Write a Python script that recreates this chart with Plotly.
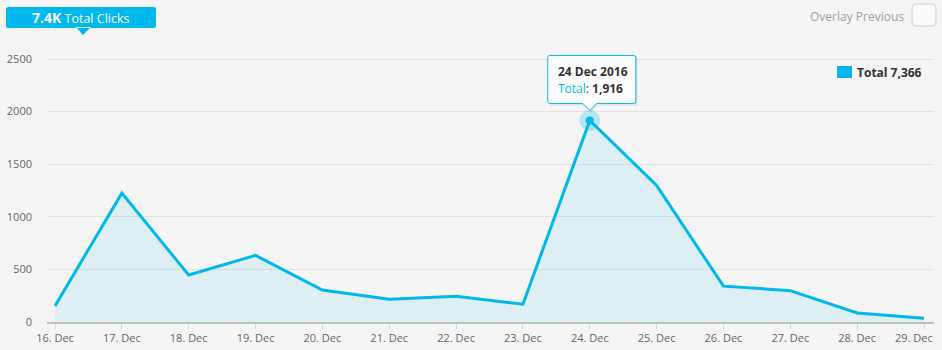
import plotly.graph_objects as go
import pandas as pd

# ---- data ----
dates = ["2016-12-16", "2016-12-17", "2016-12-18", "2016-12-19", "2016-12-20",
         "2016-12-21", "2016-12-22", "2016-12-23", "2016-12-24", "2016-12-25",
         "2016-12-26", "2016-12-27", "2016-12-28", "2016-12-29"]
clicks = [152, 1225, 447, 633, 304, 216, 245, 169, 1916, 1298, 341, 298, 86, 36]
series_name = "Total"
y_ticks = [0, 500, 1000, 1500, 2000, 2500]
highlight_index = 8

CYAN = "#00b9ec"
FONT = "Open Sans"

total = sum(clicks)
d = pd.to_datetime(dates)
x_range = [d[0] - pd.Timedelta(days=0.1197), d[-1] + pd.Timedelta(days=0.1496)]
hx = dates[highlight_index]
hy = clicks[highlight_index]

M_T, M_B = 50, 28
plot_h = 350 - M_T - M_B
y_top = y_ticks[-1] * plot_h / (plot_h - 9)   # 2500 gridline sits 9px below the plot top

fig = go.Figure()
fig.add_trace(go.Scatter(
    x=dates, y=clicks, mode="lines", name=series_name,
    line=dict(color=CYAN, width=3), fill="tozeroy",
    fillcolor="rgba(53,187,245,0.12)", hoverinfo="skip", showlegend=False))
# highlight halo + dot
fig.add_trace(go.Scatter(
    x=[hx], y=[hy], mode="markers", showlegend=False, hoverinfo="skip",
    marker=dict(size=21, color="rgba(0,185,236,0.25)", line=dict(width=0))))
fig.add_trace(go.Scatter(
    x=[hx], y=[hy], mode="markers", showlegend=False, hoverinfo="skip",
    marker=dict(size=8, color=CYAN, line=dict(width=0))))

shapes = []
# tooltip shadow + box with pointer (pixel offsets from the highlighted point)
box_path = "M -40,65 L 44,65 Q 46,65 46,63 L 46,19 Q 46,17 44,17 L 7,17 L 0,10 L -7,17 " \
           "L -40,17 Q -42,17 -42,19 L -42,63 Q -42,65 -40,65 Z"
shadow_path = "M -40,64 L 48,64 L 48,15 L 8,15 L 1,8 L -6,15 L -40,15 Z"
shapes.append(dict(type="path", xref="x", yref="y", xsizemode="pixel", ysizemode="pixel",
                   xanchor=hx, yanchor=hy, path=shadow_path,
                   fillcolor="rgba(0,0,0,0.07)", line=dict(width=0), layer="above"))
shapes.append(dict(type="path", xref="x", yref="y", xsizemode="pixel", ysizemode="pixel",
                   xanchor=hx, yanchor=hy, path=box_path,
                   fillcolor="rgba(255,255,255,0.97)", line=dict(color=CYAN, width=1), layer="above"))
# top-left badge with pointer
shapes.append(dict(type="path", xref="paper", yref="paper", xsizemode="pixel", ysizemode="pixel",
                   xanchor=0, yanchor=1,
                   path="M -39,43 Q -41,43 -41,41 L -41,24 Q -41,22 -39,22 L 107,22 Q 109,22 109,24 "
                        "L 109,41 Q 109,43 107,43 Z M 29,23 L 44,23 L 36,15 Z",
                   fillcolor=CYAN, line=dict(width=0), layer="above"))
# checkbox
shapes.append(dict(type="path", xref="paper", yref="paper", xsizemode="pixel", ysizemode="pixel",
                   xanchor=1, yanchor=1,
                   path="M -18,46 L -2,46 Q 2,46 2,42 L 2,28 Q 2,24 -2,24 L -18,24 Q -22,24 -22,28 "
                        "L -22,42 Q -22,46 -18,46 Z",
                   fillcolor="#fbfbfb", line=dict(color="#cfcfcf", width=1), layer="above"))
# legend swatch
shapes.append(dict(type="rect", xref="paper", yref="paper", xsizemode="pixel", ysizemode="pixel",
                   xanchor=1, yanchor=1, x0=-97, x1=-82, y0=-16, y1=-28,
                   fillcolor=CYAN, line=dict(width=0), layer="above"))

annotations = [
    dict(x=hx, y=hy, xref="x", yref="y", xanchor="left", yanchor="middle",
         xshift=-34, yshift=49, showarrow=False,
         text="<b>24 Dec 2016</b>", font=dict(family=FONT, size=12, color="#333333")),
    dict(x=hx, y=hy, xref="x", yref="y", xanchor="left", yanchor="middle",
         xshift=-34, yshift=32, showarrow=False,
         text=f"<span style='color:{CYAN}'>{series_name}</span>: <b>{hy:,}</b>",
         font=dict(family=FONT, size=12, color="#333333")),
    dict(x=0, y=1, xref="paper", yref="paper", xanchor="center", yanchor="middle",
         xshift=34, yshift=33, showarrow=False,
         text=f"<span style='font-size:14px'><b>{total/1000:.1f}K</b></span> Total Clicks",
         font=dict(family=FONT, size=12.5, color="white")),
    dict(x=1, y=1, xref="paper", yref="paper", xanchor="right", yanchor="middle",
         xshift=-28, yshift=34, showarrow=False,
         text="Overlay Previous", font=dict(family=FONT, size=12, color="#a0a0a0")),
    dict(x=1, y=1, xref="paper", yref="paper", xanchor="left", yanchor="middle",
         xshift=-79, yshift=-22, showarrow=False,
         text=f"<b>{series_name} {total:,}</b>", font=dict(family=FONT, size=12, color="#333333")),
    # last x label, kept inside the page
    dict(x=dates[-1], y=0, xref="x", yref="paper", xanchor="right", yanchor="middle",
         xshift=11, yshift=-15, showarrow=False,
         text=pd.Timestamp(dates[-1]).strftime("%-d. %b"),
         font=dict(family=FONT, size=11, color="#666666")),
]

fig.update_layout(
    width=942, height=350,
    margin=dict(l=47, r=8, t=M_T, b=M_B, pad=0, autoexpand=False),
    paper_bgcolor="#f5f5f5", plot_bgcolor="#f5f5f5",
    font=dict(family=FONT, size=11, color="#666666"),
    showlegend=False, hovermode=False,
    shapes=shapes, annotations=annotations,
    xaxis=dict(type="date", range=x_range, tick0=dates[0], dtick=86400000,
               tickformat="%-d. %b", showgrid=False, zeroline=False, automargin=False,
               showline=True, linecolor="#c0c0c0", linewidth=2,
               ticks="outside", ticklen=5, tickcolor="#ccd6eb", tickwidth=1,
               ticklabelstandoff=0,
               tickfont=dict(family=FONT, size=11, color="#666666")),
    yaxis=dict(range=[0, y_top], tickvals=y_ticks, showgrid=True, gridcolor="#e2e2e2",
               gridwidth=1, zeroline=False, showline=False, ticks="", automargin=False,
               ticklabelstandoff=14,
               tickfont=dict(family=FONT, size=11, color="#666666")),
)

fig.write_html("out.html")
